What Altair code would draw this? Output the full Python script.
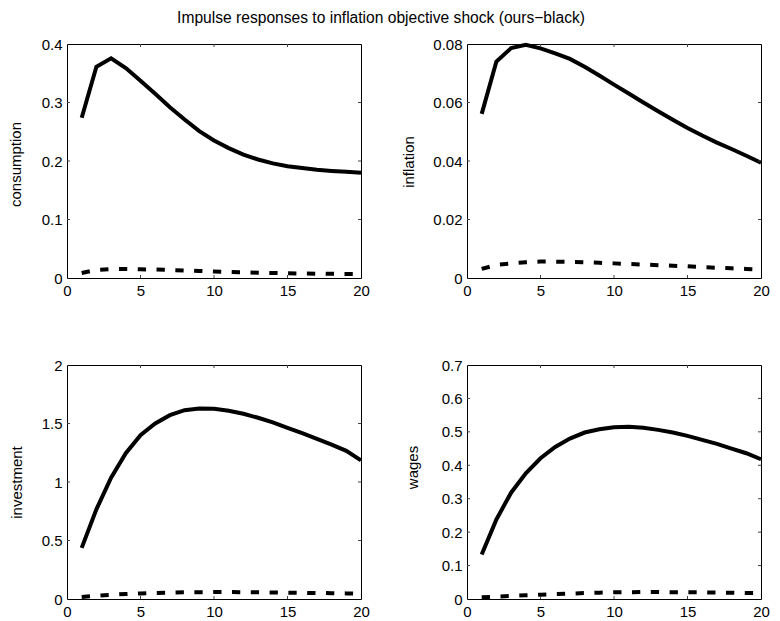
import altair as alt
import pandas as pd

FONT = "Liberation Sans"
FS = 15
W, H = 294, 234
TL = 3  # inner tick length

periods = list(range(1, 21))
x_ticks = [0, 5, 10, 15, 20]

consumption_ours = [0.274, 0.361, 0.3755, 0.359, 0.337, 0.315, 0.292, 0.271, 0.251, 0.235,
                    0.222, 0.211, 0.2026, 0.196, 0.191, 0.188, 0.185, 0.183, 0.1815, 0.180]
consumption_black = [0.0085, 0.0138, 0.0152, 0.0154, 0.0149, 0.0144, 0.0137, 0.0129, 0.0120, 0.0111,
                     0.0104, 0.0097, 0.0091, 0.0086, 0.0081, 0.0077, 0.0074, 0.0071, 0.0069, 0.0067]

inflation_ours = [0.0561, 0.0740, 0.0786, 0.0797, 0.0785, 0.0768, 0.0749, 0.0722, 0.0692, 0.0661,
                  0.0631, 0.0600, 0.0570, 0.0541, 0.0513, 0.0487, 0.0463, 0.0441, 0.0418, 0.0394]
inflation_black = [0.0031, 0.0045, 0.0050, 0.0054, 0.0056, 0.0056, 0.0055, 0.0054, 0.0052, 0.0050,
                   0.0048, 0.0046, 0.0044, 0.0042, 0.0040, 0.0037, 0.0035, 0.0033, 0.0031, 0.0029]

investment_ours = [0.437, 0.766, 1.037, 1.246, 1.400, 1.500, 1.571, 1.614, 1.629, 1.626,
                   1.609, 1.583, 1.549, 1.509, 1.463, 1.417, 1.369, 1.320, 1.266, 1.185]
investment_black = [0.018, 0.028, 0.036, 0.043, 0.048, 0.052, 0.055, 0.057, 0.058, 0.059,
                    0.059, 0.058, 0.057, 0.056, 0.054, 0.053, 0.051, 0.050, 0.048, 0.046]

wages_ours = [0.133, 0.238, 0.318, 0.376, 0.421, 0.455, 0.480, 0.498, 0.508, 0.514,
              0.515, 0.512, 0.506, 0.498, 0.488, 0.476, 0.464, 0.450, 0.436, 0.418]
wages_black = [0.005, 0.007, 0.009, 0.011, 0.013, 0.015, 0.016, 0.018, 0.019, 0.020,
               0.020, 0.021, 0.021, 0.020, 0.020, 0.020, 0.019, 0.019, 0.018, 0.018]

title_text = "Impulse responses to inflation objective shock (ours\u2212black)"

panels = [
    # name, ours, black, domain, y tick values, titleX, titleY
    ("consumption", consumption_ours, consumption_black, [0, 0.4], [0, 0.1, 0.2, 0.3, 0.4], -46.3, 120),
    ("inflation", inflation_ours, inflation_black, [0, 0.08], [0, 0.02, 0.04, 0.06, 0.08], -54, 117.5),
    ("investment", investment_ours, investment_black, [0, 2], [0, 0.5, 1, 1.5, 2], -45.6, 117),
    ("wages", wages_ours, wages_black, [0, 0.7], [0, 0.1, 0.2, 0.3, 0.4, 0.5, 0.6, 0.7], -50, 102),
]


def panel(name, ours, black, dom, yvals, tx, ty):
    df = pd.DataFrame({"x": periods, "ours": ours, "black": black})
    xs = alt.Scale(domain=[0, 20], nice=False)
    ys = alt.Scale(domain=dom, nice=False)
    xaxis = alt.Axis(values=x_ticks, title=None, labelFlush=False, labelPadding=5,
                     labelOverlap=False, ticks=False, tickSize=0, domain=False, grid=False,
                     labelFont=FONT, labelFontSize=FS, labelColor="black")
    yaxis = alt.Axis(values=yvals, format="~g", title=name, labelFlush=False, labelPadding=5,
                     labelOverlap=False, ticks=False, tickSize=0, domain=False, grid=False,
                     labelFont=FONT, labelFontSize=FS, labelColor="black",
                     titleFont=FONT, titleFontSize=FS, titleFontWeight="normal", titleColor="black",
                     titleAngle=270, titleAlign="center", titleBaseline="alphabetic",
                     titleX=tx, titleY=ty)
    base = alt.Chart(df)
    solid = base.mark_line(color="black", strokeWidth=4).encode(
        x=alt.X("x:Q", scale=xs, axis=xaxis),
        y=alt.Y("ours:Q", scale=ys, axis=yaxis),
    )
    dashed = base.mark_line(color="black", strokeWidth=4, strokeDash=[8.3, 10.5]).encode(
        x=alt.X("x:Q", scale=xs, axis=xaxis),
        y=alt.Y("black:Q", scale=ys, axis=yaxis),
    )
    inner_y = [v for v in yvals if dom[0] < v < dom[1]]
    inner_x = [v for v in x_ticks if 0 < v < 20]
    ydf = pd.DataFrame({"t": inner_y})
    xdf = pd.DataFrame({"t": inner_x})
    tick_color = "#444444"
    lt = alt.Chart(ydf).mark_rule(color=tick_color, strokeWidth=1).encode(
        y=alt.Y("t:Q", scale=ys, axis=yaxis), x=alt.value(0), x2=alt.value(TL))
    rt = alt.Chart(ydf).mark_rule(color=tick_color, strokeWidth=1).encode(
        y=alt.Y("t:Q", scale=ys, axis=yaxis), x=alt.value(W - TL), x2=alt.value(W))
    bt = alt.Chart(xdf).mark_rule(color=tick_color, strokeWidth=1).encode(
        x=alt.X("t:Q", scale=xs, axis=xaxis), y=alt.value(H - TL), y2=alt.value(H))
    tt = alt.Chart(xdf).mark_rule(color=tick_color, strokeWidth=1).encode(
        x=alt.X("t:Q", scale=xs, axis=xaxis), y=alt.value(0), y2=alt.value(TL))
    return alt.layer(solid, dashed, lt, rt, bt, tt).properties(width=W, height=H)


charts = [panel(*p) for p in panels]

chart = alt.concat(*charts, columns=2, spacing={"row": 87, "column": 106},
                   bounds="flush").properties(
    title=alt.TitleParams(text=title_text, font=FONT, fontSize=15.6, fontWeight="normal",
                          color="black", anchor="middle", dx=-8, offset=9.5),
    padding={"left": 0, "top": 3, "right": 0, "bottom": 0},
    background="white",
).configure_view(stroke="black", strokeWidth=1)

chart.save("out.html", embed_options={"renderer": "svg", "actions": False})
